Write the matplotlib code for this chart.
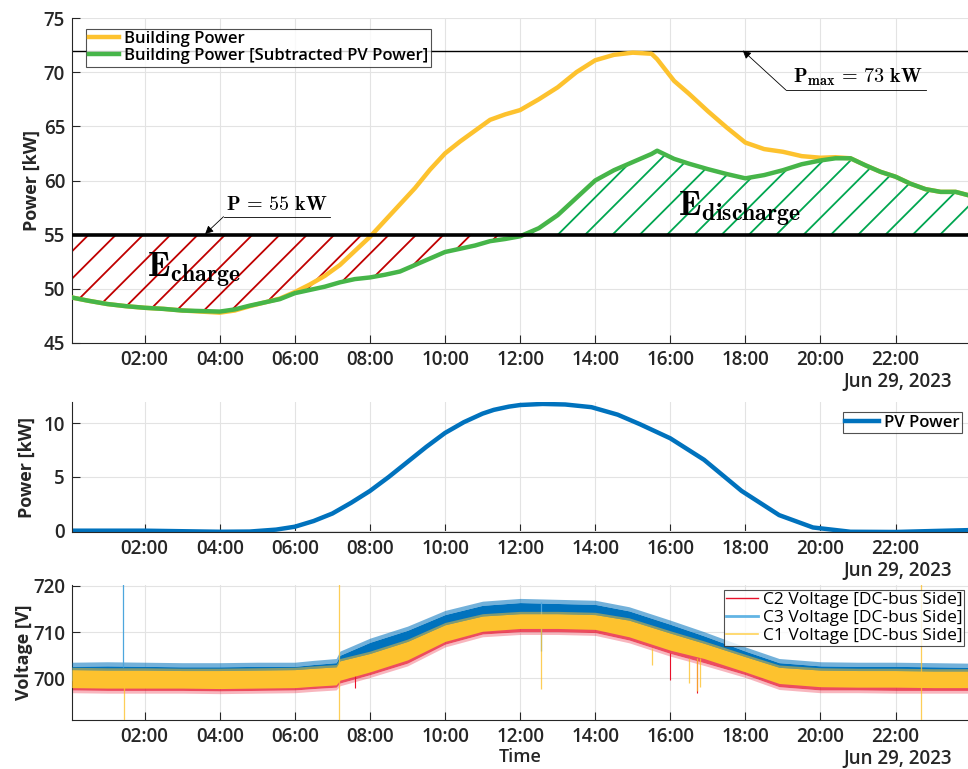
import numpy as np
import matplotlib
matplotlib.use("Agg")
import matplotlib.pyplot as plt
from matplotlib.lines import Line2D

plt.rcParams['font.family'] = ['Open Sans', 'DejaVu Sans']
plt.rcParams['mathtext.fontset'] = 'cm'

# ---------------- data (hours of Jun 29, 2023) ----------------
bp_hours = [0.06, 0.5, 1, 1.5, 2, 2.5, 3, 3.5, 4, 4.4, 4.8, 5.2, 5.6, 6, 6.4, 6.8,
            7.2, 7.6, 8, 8.4, 8.8, 9.2, 9.6, 10, 10.4, 10.8, 11.2, 11.6, 12, 12.5,
            13, 13.5, 14, 14.5, 15, 15.5, 15.65, 16.1, 16.5, 17, 17.5, 18, 18.5,
            19, 19.5, 20, 20.4, 20.8, 21.2, 21.6, 22, 22.4, 22.8, 23.2, 23.6, 23.93]
building_kw = [49.2, 48.9, 48.6, 48.4, 48.25, 48.15, 48.0, 47.9, 47.8, 48.0, 48.4,
               48.75, 49.1, 49.7, 50.4, 51.2, 52.2, 53.5, 54.8, 56.3, 57.8, 59.3,
               61.0, 62.5, 63.6, 64.6, 65.6, 66.1, 66.5, 67.5, 68.6, 70.0, 71.1,
               71.6, 71.8, 71.7, 71.2, 69.2, 68.0, 66.4, 64.9, 63.5, 62.9, 62.65,
               62.25, 62.1, 62.15, 62.05, 61.4, 60.8, 60.35, 59.7, 59.2, 58.95,
               58.95, 58.65]
building_net_kw = [49.2, 48.9, 48.6, 48.4, 48.25, 48.15, 48.0, 47.95, 47.9, 48.1,
                   48.45, 48.75, 49.05, 49.6, 49.9, 50.2, 50.6, 50.9, 51.05, 51.3,
                   51.6, 52.2, 52.8, 53.4, 53.7, 54.0, 54.4, 54.6, 54.85, 55.6,
                   56.8, 58.4, 60.0, 60.95, 61.7, 62.45, 62.75, 62.0, 61.55, 61.05,
                   60.6, 60.2, 60.5, 60.95, 61.5, 61.85, 62.05, 62.05, 61.4, 60.8,
                   60.35, 59.7, 59.2, 58.95, 58.95, 58.65]
p_limit = 55
p_max_line = 72

pv_hours = [0.06, 1, 2, 3, 4, 4.8, 5.5, 6.0, 6.5, 7.0, 7.5, 8.0, 8.5, 9.0, 9.5, 10.0,
            10.5, 11.0, 11.3, 11.7, 12.0, 12.6, 13.2, 13.9, 14.6, 15.2, 16.0, 16.9,
            17.9, 18.9, 19.8, 20.8, 22.0, 23.0, 23.93]
pv_kw = [0.0, 0.0, 0.0, -0.05, -0.1, -0.08, 0.1, 0.37, 0.9, 1.6, 2.6, 3.7, 5.0, 6.4,
         7.8, 9.1, 10.1, 10.9, 11.25, 11.55, 11.7, 11.8, 11.75, 11.5, 10.8, 9.9, 8.6,
         6.6, 3.7, 1.45, 0.3, -0.1, -0.12, -0.03, 0.05]

# voltage bands (envelopes of the noisy traces)
v_hours = [0.06, 1, 2, 3, 4, 5, 6, 6.5, 7.1, 7.2, 8, 9, 10, 11, 12, 13, 14, 14.9,
           16, 16.9, 18, 18.9, 20, 21, 22, 23, 23.93]
c3_hi = [702.6, 702.7, 702.6, 702.5, 702.5, 702.6, 702.6, 703.0, 703.4, 705.0, 707.8,
         710.4, 713.8, 715.8, 716.4, 716.2, 716.0, 714.6, 711.7, 709.2, 705.9, 703.4,
         702.7, 702.6, 702.6, 702.5, 702.4]
c3_lo = [699.5, 699.4, 699.4, 699.4, 699.3, 699.4, 699.5, 699.8, 700.1, 701.1, 702.9,
         705.5, 709.5, 711.7, 712.3, 712.3, 712.1, 710.5, 707.6, 705.8, 702.9, 700.4,
         699.7, 699.6, 699.6, 699.5, 699.5]
c1_hi = [701.9, 701.8, 701.8, 701.7, 701.7, 701.8, 701.9, 702.2, 702.5, 703.8, 705.4,
         708.0, 711.6, 713.5, 714.0, 714.0, 713.8, 712.6, 709.8, 707.6, 704.7, 702.4,
         701.8, 701.7, 701.7, 701.6, 701.6]
c1_lo = [698.0, 697.9, 697.9, 697.9, 697.8, 697.9, 698.0, 698.3, 698.6, 699.6, 701.4,
         704.0, 708.0, 710.2, 710.8, 710.8, 710.6, 709.0, 706.1, 704.3, 701.4, 698.9,
         698.2, 698.1, 698.1, 698.0, 698.0]
c2_hi = [701.0, 700.9, 700.9, 700.8, 700.8, 700.9, 701.0, 701.3, 701.6, 702.7, 704.4,
         707.0, 710.6, 712.6, 713.0, 713.0, 712.8, 711.5, 708.7, 706.6, 703.6, 701.4,
         700.9, 700.8, 700.8, 700.7, 700.7]
c2_lo = [697.5, 697.4, 697.4, 697.4, 697.3, 697.4, 697.5, 697.8, 698.1, 699.0, 700.8,
         703.3, 707.4, 709.6, 710.1, 710.1, 709.9, 708.3, 705.4, 703.4, 700.8, 698.2,
         697.5, 697.5, 697.4, 697.4, 697.4]
# single-sample transients
c3_spike_h = [1.43, 12.56]
c3_spike_lo = [702.5, 706.0]
c3_spike_hi = [721.0, 716.5]
c1_spike_h = [1.44, 7.17, 12.56, 15.5, 16.5, 16.7, 16.78, 22.67]
c1_spike_lo = [690.0, 690.0, 697.8, 702.9, 699.0, 697.3, 698.2, 690.0]
c1_spike_hi = [698.5, 722.0, 711.0, 706.5, 704.5, 704.5, 704.5, 722.0]
c2_spike_h = [16.0, 16.72, 7.6]
c2_spike_lo = [699.7, 696.8, 698.0]
c2_spike_hi = [705.5, 704.0, 701.0]

tick_hours = [2, 4, 6, 8, 10, 12, 14, 16, 18, 20, 22]
tick_labels = ['%02d:00' % h for h in tick_hours]
date_label = 'Jun 29, 2023'

# ---------------- figure ----------------
W, H = 968, 769
fig = plt.figure(figsize=(W / 100, H / 100), dpi=100)
ink = '#262626'
xlim = (0.064, 23.93)


def px_axes(left, top, right, bottom):
    return fig.add_axes([left / W, 1 - bottom / H, (right - left) / W, (bottom - top) / H])


def style(ax, date_drop=29):
    ax.set_xlim(*xlim)
    ax.set_xticks(tick_hours)
    ax.set_xticklabels(tick_labels)
    ax.grid(True, color='#e3e3e3', lw=0.8)
    ax.set_axisbelow(True)
    for s in ('top', 'right'):
        ax.spines[s].set_visible(False)
    for s in ('left', 'bottom'):
        ax.spines[s].set_color(ink)
        ax.spines[s].set_linewidth(0.8)
    ax.tick_params(direction='in', length=6, width=0.8, colors=ink,
                   labelsize=13.5, pad=5)
    for lab in ax.get_xticklabels() + ax.get_yticklabels():
        lab.set_fontweight('semibold')
    ax.annotate(date_label, xy=(0.982, 0), xycoords='axes fraction',
                xytext=(0, -date_drop * 0.72), textcoords='offset points',
                ha='right', va='top', fontsize=13.5, fontweight='semibold', color=ink)


def legend_box(leg):
    leg.get_frame().set_edgecolor(ink)
    leg.get_frame().set_linewidth(0.8)
    leg.set_zorder(10)


yellow = '#fdc22e'
green = '#46b549'

# --- top: building power ---
ax1 = px_axes(72, 18, 968, 343)
ax1.set_ylim(45, 75)
ax1.set_yticks([45, 50, 55, 60, 65, 70, 75])
style(ax1)
ax1.plot(bp_hours, building_kw, color=yellow, lw=3.2, label='Building Power', zorder=3)
ax1.plot(bp_hours, building_net_kw, color=green, lw=3.2,
         label='Building Power [Subtracted PV Power]', zorder=4)
ax1.axhline(p_limit, color='black', lw=2.6, zorder=5)
ax1.axhline(p_max_line, color='black', lw=1.0, zorder=2)

g = np.array(building_net_kw)
charge = ax1.fill_between(bp_hours, p_limit, np.minimum(g, p_limit), facecolor='none',
                          edgecolor='none')
discharge = ax1.fill_between(bp_hours, p_limit, np.maximum(g, p_limit),
                             facecolor='none', edgecolor='none')

# 45 degree (in pixels) hatch lines, clipped to the two regions
px_h = ax1.bbox.width / (xlim[1] - xlim[0])
px_kw = ax1.bbox.height / 30.0
slope = px_h / px_kw
step = 27.3 / px_h
for poly, color, x0 in ((charge, '#c00000', (88.7 - 69.6) / 37.55),
                        (discharge, '#00a650', (558 - 69.6) / 37.55)):
    path = poly.get_paths()[0]
    for c in np.arange(x0 - 40 * step, x0 + 40 * step, step):
        ln, = ax1.plot([c - 10 / slope, c + 10 / slope], [p_limit - 10, p_limit + 10],
                       color=color, lw=1.3, zorder=2.5)
        ln.set_clip_path(path, ax1.transData)

ax1.set_ylabel('Power [kW]', fontsize=13, fontweight='bold', color=ink, labelpad=2)
leg = ax1.legend(loc='upper left', bbox_to_anchor=(0.016, 0.967),
                 prop={'weight': 'semibold', 'size': 12}, frameon=True, fancybox=False,
                 borderpad=0.15, handlelength=1.8, handletextpad=0.3, labelspacing=0.05,
                 borderaxespad=0)
legend_box(leg)

# annotations
ax1.annotate('', xy=(3.61, 55.06), xytext=(4.10, 56.66),
             arrowprops=dict(arrowstyle='-|>', color='black', lw=0.6,
                             mutation_scale=12, shrinkA=0, shrinkB=0), zorder=6)
ax1.plot([4.10, 6.93], [56.66, 56.66], color='black', lw=0.6, zorder=6)
ax1.text(5.52, 56.85, r'$\mathbf{P\, =\, 55\ kW}$', ha='center', va='bottom',
         fontsize=14.5, zorder=6)
ax1.annotate('', xy=(17.93, 72.0), xytext=(19.08, 68.35),
             arrowprops=dict(arrowstyle='-|>', color='black', lw=0.6,
                             mutation_scale=12, shrinkA=0, shrinkB=0), zorder=6)
ax1.plot([19.08, 22.81], [68.35, 68.35], color='black', lw=0.6, zorder=6)
ax1.text(21.0, 68.55, r'$\mathbf{P_{max}\, =\, 73\ kW}$', ha='center', va='bottom',
         fontsize=14.5, zorder=6)
ax1.text(2.07, 51.1, r'$\mathbf{E_{charge}}$', ha='left', va='baseline', fontsize=24.5,
         zorder=6)
ax1.text(16.2, 56.72, r'$\mathbf{E_{discharge}}$', ha='left', va='baseline',
         fontsize=24.5, zorder=6)

# --- middle: PV power ---
ax2 = px_axes(72, 401.8, 968, 532.3)
ax2.set_ylim(-0.15, 12)
ax2.set_yticks([0, 5, 10])
style(ax2)
ax2.plot(pv_hours, pv_kw, color='#0072bd', lw=3.2, label='PV Power')
ax2.set_ylabel('Power [kW]', fontsize=13, fontweight='bold', color=ink, labelpad=6)
leg2 = ax2.legend(loc='upper right', bbox_to_anchor=(0.993, 0.92),
                  prop={'weight': 'semibold', 'size': 12}, frameon=True, fancybox=False,
                  borderpad=0.15, handlelength=2.0, handletextpad=0.3, borderaxespad=0)
legend_box(leg2)

# --- bottom: DC-bus voltages ---
ax3 = px_axes(72, 585, 968, 720)
ax3.set_ylim(691, 720.2)
ax3.set_yticks([700, 710, 720])
style(ax3)
red_c, blue_c, yel_c = '#e8102a', '#0072bd', '#fdc22e'
# core bands plus a lighter fringe that stands in for the sample-to-sample noise
ax3.fill_between(v_hours, c2_lo, c2_hi, color=red_c, lw=0, alpha=0.75, zorder=2)
ax3.fill_between(v_hours, np.array(c2_lo) - 0.6, c2_lo, color=red_c, lw=0, alpha=0.3,
                 zorder=2)
ax3.vlines(c2_spike_h, c2_spike_lo, c2_spike_hi, color=red_c, lw=0.8, zorder=2)
ax3.fill_between(v_hours, c3_lo, c3_hi, color=blue_c, lw=0, zorder=3)
ax3.fill_between(v_hours, c3_hi, np.array(c3_hi) + 0.9, color=blue_c, lw=0, alpha=0.55,
                 zorder=3)
ax3.vlines(c3_spike_h, c3_spike_lo, c3_spike_hi, color='#4da6dd', lw=0.9, zorder=3)
ax3.fill_between(v_hours, c1_lo, c1_hi, color=yel_c, lw=0, zorder=4)
ax3.fill_between(v_hours, c1_hi, np.array(c1_hi) + 0.5, color=yel_c, lw=0, alpha=0.5,
                 zorder=4)
ax3.vlines(c1_spike_h, c1_spike_lo, c1_spike_hi, color='#fdc22e', lw=0.9, alpha=0.8,
           zorder=4)
ax3.set_ylabel('Voltage [V]', fontsize=13, fontweight='bold', color=ink, labelpad=0)
ax3.set_xlabel('Time', fontsize=13, fontweight='semibold', color=ink, labelpad=1)
handles = [Line2D([], [], color=red_c, lw=1),
           Line2D([], [], color='#62b4e4', lw=2),
           Line2D([], [], color='#ffd35a', lw=1.2)]
labels = ['C2 Voltage [DC-bus Side]', 'C3 Voltage [DC-bus Side]',
          'C1 Voltage [DC-bus Side]']
leg3 = ax3.legend(handles, labels, loc='upper right', bbox_to_anchor=(0.996, 0.96),
                  prop={'size': 12.5}, frameon=True, fancybox=False, borderpad=0.1,
                  handlelength=1.85, handletextpad=0.3, labelspacing=0.1,
                  borderaxespad=0)
legend_box(leg3)

fig.savefig('out.png', dpi=100)
